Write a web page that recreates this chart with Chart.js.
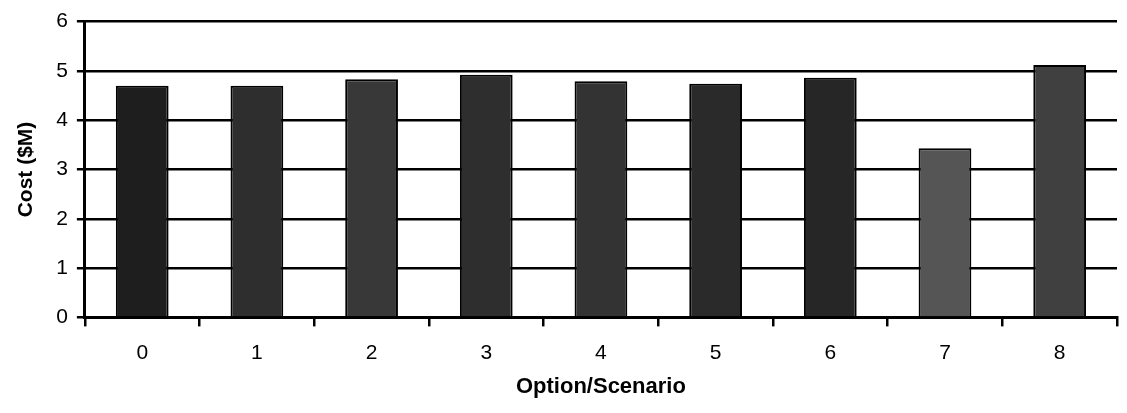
<!DOCTYPE html>
<html>
<head>
<meta charset="utf-8">
<script src="https://cdn.jsdelivr.net/npm/chart.js@4.4.1/dist/chart.umd.min.js"></script>
<style>
  html, body { margin: 0; padding: 0; background: #fff; }
  #wrap { width: 1127px; height: 413px; }
</style>
</head>
<body>
<div id="wrap"><canvas id="grafica"></canvas></div>
<script>
// datos
const opciones = ['0', '1', '2', '3', '4', '5', '6', '7', '8'];
const costos = [4.70, 4.70, 4.83, 4.92, 4.79, 4.74, 4.86, 3.43, 5.12];
const ticksY = [0, 1, 2, 3, 4, 5, 6];

const coloresBarra = ['#1e1e1e', '#2e2e2e', '#383838', '#2e2e2e', '#333333', '#2a2a2a', '#262626', '#555555', '#404040'];

const familia = '"Liberation Sans", Arial, sans-serif';
const fuente = { family: familia, size: 21 };

const config = {
    type: 'bar',
    data: {
        labels: opciones,
        datasets: [{
            data: costos,
            backgroundColor: coloresBarra,
            borderColor: '#000',
            borderWidth: 2,
            barPercentage: 0.46,
            categoryPercentage: 1
        }]
    },
    options: {
        responsive: true,
        maintainAspectRatio: false,
        animation: false,
        layout: { padding: { top: 0, right: 10, left: 10, bottom: 11 } },
        plugins: { legend: { display: false }, tooltip: { enabled: false } },
        scales: {
            x: {
                offset: true,
                grid: { offset: true, drawOnChartArea: false, drawTicks: true, tickLength: 9, color: '#000', lineWidth: 2.5 },
                border: { color: '#000', width: 3 },
                ticks: { color: '#000', font: fuente, padding: 14 },
                title: { display: true, text: 'Option/Scenario', color: '#000', font: { family: familia, size: 22, weight: 'bold' }, padding: { top: -6, bottom: 2 } }
            },
            y: {
                min: 0,
                max: 6,
                afterBuildTicks: (eje) => { eje.ticks = ticksY.map(v => ({ value: v })); },
                grid: { color: '#000', lineWidth: 2.5, tickLength: 8 },
                border: { color: '#000', width: 3 },
                ticks: { color: '#000', font: fuente, padding: 9 },
                title: { display: true, text: 'Cost ($M)', color: '#000', font: { family: familia, size: 21, weight: 'bold' }, padding: { bottom: 8 } }
            }
        }
    }
};

window.grafica = new Chart(document.getElementById('grafica'), config);
</script>
</body>
</html>
